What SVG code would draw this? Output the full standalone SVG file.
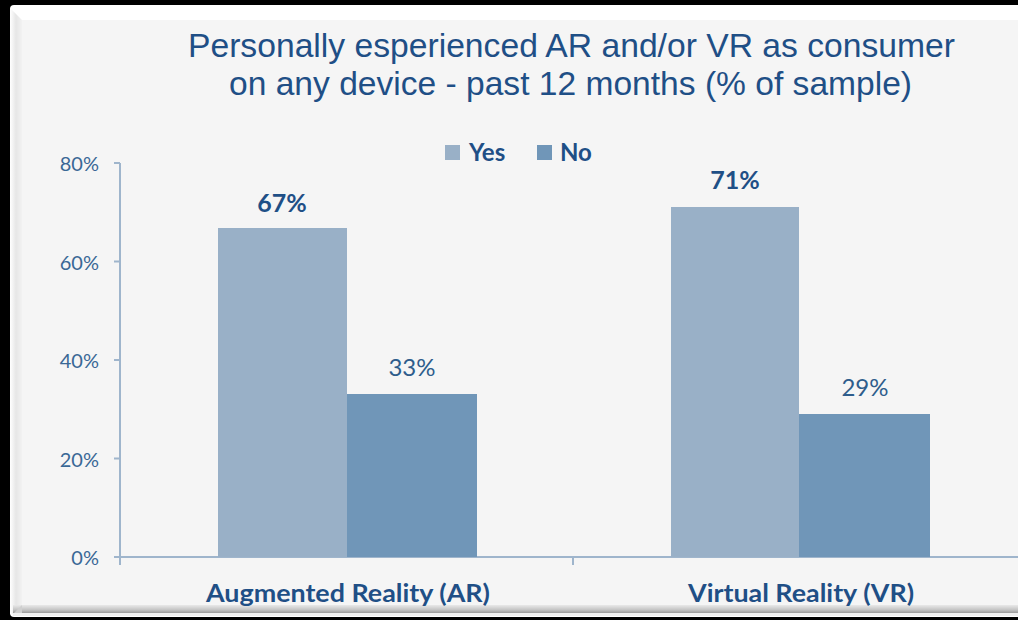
<svg xmlns="http://www.w3.org/2000/svg" width="1018" height="620" viewBox="0 0 1018 620">
  <defs>
    <linearGradient id="leftBevel" x1="0" y1="0" x2="1" y2="0">
      <stop offset="0" stop-color="#ffffff"/>
      <stop offset="0.5" stop-color="#e6e6e6"/>
      <stop offset="1" stop-color="#f2f2f2"/>
    </linearGradient>
    <linearGradient id="bottomBevel" x1="0" y1="0" x2="0" y2="1">
      <stop offset="0" stop-color="#e9e9e9"/>
      <stop offset="0.6" stop-color="#c4c4c4"/>
      <stop offset="1" stop-color="#9a9a9a"/>
    </linearGradient>
    <style>
      .title { font-family: "Liberation Sans", Arial, sans-serif; font-size: 34px; fill: #1f4f86; text-anchor: middle; }
      .tick { font-family: Lato, "Open Sans", sans-serif; font-size: 20px; fill: #3a6896; text-anchor: end; }
      .axis { stroke: #9fb5cc; stroke-width: 2; fill: none; }
      .yes { fill: #99b0c7; }
      .no { fill: #7096b8; }
      .val { font-family: Lato, "Open Sans", sans-serif; font-size: 24px; fill: #2e5d8c; text-anchor: middle; }
      .valb { font-family: Lato, "Open Sans", sans-serif; font-size: 25px; font-weight: bold; fill: #1f4f86; text-anchor: middle; }
      .cat { font-family: Lato, "Open Sans", sans-serif; font-size: 24px; font-weight: bold; fill: #1f4f86; text-anchor: middle; }
      .leg { font-family: Lato, "Open Sans", sans-serif; font-size: 24px; font-weight: bold; fill: #1f4f86; }
    </style>
  </defs>

  <!-- dark surround -->
  <rect x="0" y="0" width="1018" height="620" fill="#000000"/>

  <!-- bevelled panel -->
  <g id="panel">
    <rect x="10" y="5" width="1020" height="612" rx="4" fill="#ffffff"/>
    <rect x="22" y="20" width="1008" height="585" fill="#f5f5f5"/>
    <polygon points="10,8 22,20 22,605 13,614 10,614" fill="url(#leftBevel)"/>
    <polygon points="13,605 1018,605 1018,613 13,613" fill="url(#bottomBevel)"/>
    <polygon points="13,614 22,605 22,613" fill="#cfcfcf"/>
    <rect x="13" y="613" width="1005" height="3" fill="#f0f0f0"/>
  </g>

  <!-- title -->
  <g id="title">
    <text class="title" x="571.5" y="57" textLength="767" lengthAdjust="spacingAndGlyphs">Personally esperienced AR and/or VR as consumer</text>
    <text class="title" x="570.5" y="95" textLength="683" lengthAdjust="spacingAndGlyphs">on any device - past 12 months (% of sample)</text>
  </g>

  <!-- legend -->
  <g id="legend">
    <rect class="yes" x="445" y="145" width="15" height="15"/>
    <text class="leg" x="469" y="161">Yes</text>
    <rect class="no" x="537" y="145" width="15" height="15"/>
    <text class="leg" x="560" y="161">No</text>
  </g>

  <!-- axes and tick marks -->
  <g id="axes">
    <path class="axis" d="M120 163 V565 M114 163 H120 M114 261.5 H120 M114 360 H120 M114 458.5 H120 M114 557 H1018 M573 557 V565"/>
    <text class="tick" x="99" y="171">80%</text>
    <text class="tick" x="99" y="269.5">60%</text>
    <text class="tick" x="99" y="368">40%</text>
    <text class="tick" x="99" y="466.5">20%</text>
    <text class="tick" x="99" y="565">0%</text>
  </g>

  <!-- Augmented Reality bars -->
  <g id="ar">
    <rect class="yes" x="218" y="228" width="129" height="329"/>
    <rect class="no" x="347" y="394" width="130" height="163"/>
    <text class="valb" x="282" y="212">67%</text>
    <text class="val" x="412" y="376">33%</text>
    <text class="cat" x="348" y="602" textLength="284" lengthAdjust="spacingAndGlyphs">Augmented Reality (AR)</text>
  </g>

  <!-- Virtual Reality bars -->
  <g id="vr">
    <rect class="yes" x="671" y="207" width="128" height="350"/>
    <rect class="no" x="799" y="414" width="131" height="143"/>
    <text class="valb" x="735" y="189">71%</text>
    <text class="val" x="865" y="396">29%</text>
    <text class="cat" x="801" y="602" textLength="226" lengthAdjust="spacingAndGlyphs">Virtual Reality (VR)</text>
  </g>
</svg>
